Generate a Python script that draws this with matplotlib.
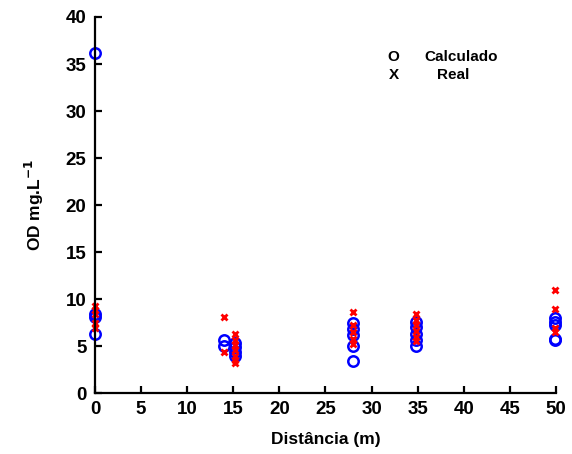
import numpy as np
import matplotlib.pyplot as plt

plt.rcParams['font.family'] = ['Liberation Sans', 'DejaVu Sans']

# Valores calculados (círculos azuis)
x_calc = [0, 0, 0, 0,
          14, 14, 15.2, 15.2, 15.2, 15.2,
          28, 28, 28, 28, 28,
          34.8, 34.8, 34.8, 34.8, 34.8,
          49.9, 49.9, 49.9, 49.9, 49.9]
od_calc = [36.2, 8.4, 8.1, 6.3,
           5.6, 5.0, 5.3, 4.9, 4.4, 3.9,
           7.5, 6.8, 6.2, 5.0, 3.4,
           7.6, 7.0, 6.3, 5.7, 5.0,
           8.0, 7.6, 7.2, 5.8, 5.6]

# Valores reais (x vermelhos)
x_real = [0, 0, 0, 0, 0,
          14, 14, 15.2, 15.2, 15.2, 15.2, 15.2, 15.2, 15.2,
          28, 28, 28, 28, 28,
          34.8, 34.8, 34.8, 34.8, 34.8, 34.8,
          49.9, 49.9, 49.9, 49.9]
od_real = [9.3, 8.8, 8.4, 7.5, 6.9,
           8.1, 4.4, 6.3, 5.7, 5.1, 4.6, 4.0, 3.5, 3.2,
           8.6, 7.3, 6.5, 5.8, 5.2,
           8.4, 7.8, 7.2, 6.6, 6.0, 5.5,
           11.0, 8.9, 6.9, 6.5]

fig = plt.figure(figsize=(5.72, 4.54), dpi=100)
ax = fig.add_axes([0.166, 0.134, 0.806, 0.8286])

ax.plot(x_calc, od_calc, 'o', ms=7.5, mfc='none', mec='#0000ff', mew=1.8, clip_on=False)
ax.plot(x_real, od_real, 'x', ms=5, color='#ff0000', mew=2, clip_on=False)

ax.set_xlim(0, 50)
ax.set_ylim(0, 40)
ax.set_xticks(np.arange(0, 51, 5))
ax.set_yticks(np.arange(0, 41, 5))
ax.spines['top'].set_visible(False)
ax.spines['right'].set_visible(False)
ax.spines['left'].set_linewidth(1.6)
ax.spines['bottom'].set_linewidth(1.6)
ax.tick_params(direction='in', length=5, width=1.6, labelsize=13.5, pad=6)
for lab in ax.get_xticklabels() + ax.get_yticklabels():
    lab.set_fontweight('bold')

ax.set_xlabel('Distância (m)', fontsize=12.5, fontweight='bold', labelpad=10)
ax.set_ylabel('OD mg.L$^{\\mathbf{-1}}$', fontsize=12.5, fontweight='bold', labelpad=14)

# legenda feita com textos
kw = dict(transform=ax.transAxes, fontsize=11, fontweight='bold', va='center')
ax.text(0.648, 0.894, 'O', ha='center', **kw)
ax.text(0.794, 0.894, 'Calculado', ha='center', **kw)
ax.text(0.648, 0.846, 'X', ha='center', **kw)
ax.text(0.777, 0.846, 'Real', ha='center', **kw)

fig.savefig('out.png', dpi=100)
